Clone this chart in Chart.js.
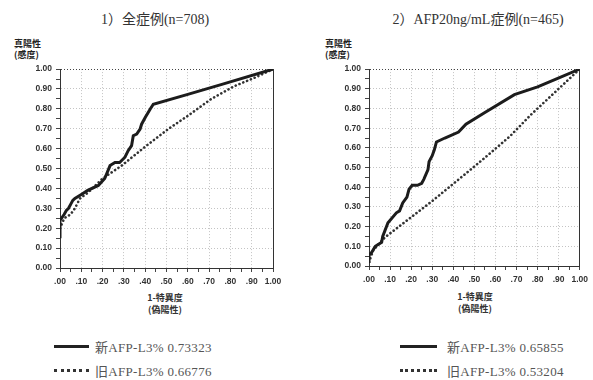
<!DOCTYPE html>
<html>
<head>
<meta charset="utf-8">
<script src="https://cdn.jsdelivr.net/npm/chart.js@4"></script>
<style>
  body { margin: 0; background: #fff; width: 593px; height: 380px; position: relative; overflow: hidden; }
  .t { position: absolute; white-space: nowrap; }
  .title { font: 14px "Liberation Serif", "Noto Sans CJK JP", serif; color: #333; transform: translate(-50%, -50%); }
  .axt { font: bold 9px "Noto Sans CJK JP", sans-serif; color: #222; line-height: 11px; }
  .xt { font: bold 9px "Noto Sans CJK JP", sans-serif; color: #333; line-height: 12px; text-align: center; transform: translateX(-50%); }
  .leg { font: 13px/15px "Liberation Serif", "Noto Sans CJK JP", serif; color: #555; transform: translateY(-50%); letter-spacing: 0.3px; }
  .ln { position: absolute; height: 0; }
  .solid { border-top: 3px solid #222; }
  .dots { border-top: 3px dotted #333; }
  canvas { position: absolute; }
</style>
</head>
<body>
<div class="t title" style="left:155px;top:18px">1）全症例(n=708)</div>
<div class="t title" style="left:478px;top:18px">2）AFP20ng/mL症例(n=465)</div>

<div class="t axt" style="left:14px;top:38px">真陽性<br>(感度)</div>
<div class="t axt" style="left:325px;top:38px">真陽性<br>(感度)</div>

<div class="t xt" style="left:165px;top:292px">1-特異度<br>(偽陽性)</div>
<div class="t xt" style="left:475px;top:291px">1-特異度<br>(偽陽性)</div>

<canvas id="c1" width="290" height="240" style="left:0;top:60px"></canvas>
<canvas id="c2" width="293" height="240" style="left:300px;top:60px"></canvas>

<div class="ln solid" style="left:54px;top:345px;width:35px"></div>
<div class="t leg" style="left:95px;top:347px">新AFP-L3% 0.73323</div>
<div class="ln dots" style="left:54px;top:369px;width:35px"></div>
<div class="t leg" style="left:95px;top:371px">旧AFP-L3% 0.66776</div>

<div class="ln solid" style="left:400px;top:345px;width:37px"></div>
<div class="t leg" style="left:447px;top:347px">新AFP-L3% 0.65855</div>
<div class="ln dots" style="left:400px;top:369px;width:37px"></div>
<div class="t leg" style="left:447px;top:371px">旧AFP-L3% 0.53204</div>

<script>
// tick labels
const yTickLabels = ["0.00", "0.10", "0.20", "0.30", "0.40", "0.50", "0.60", "0.70", "0.80", "0.90", "1.00"];
const xTickLabels = [".00", ".10", ".20", ".30", ".40", ".50", ".60", ".70", ".80", ".90", "1.00"];

// 1) 全症例 — 新AFP-L3%
const allNewX = [0, 0, 0.02, 0.03, 0.04, 0.05, 0.06, 0.07, 0.10, 0.13, 0.18, 0.21, 0.235, 0.258, 0.28, 0.305, 0.32, 0.336, 0.344, 0.36, 0.376, 0.383, 0.40, 0.423, 0.438, 0.60, 0.76, 1];
const allNewY = [0.15, 0.24, 0.27, 0.29, 0.30, 0.32, 0.34, 0.35, 0.37, 0.39, 0.415, 0.45, 0.515, 0.53, 0.53, 0.557, 0.59, 0.615, 0.665, 0.673, 0.698, 0.723, 0.757, 0.798, 0.823, 0.873, 0.923, 1];
// 1) 全症例 — 旧AFP-L3%
const allOldX = [0, 0.02, 0.05, 0.07, 0.094, 0.133, 0.2, 0.29, 0.40, 0.51, 0.60, 0.71, 0.82, 0.915, 1];
const allOldY = [0.2, 0.25, 0.27, 0.30, 0.35, 0.38, 0.45, 0.515, 0.61, 0.70, 0.765, 0.85, 0.915, 0.957, 1];

// 2) AFP20ng/mL症例 — 新AFP-L3%
const afpNewX = [0, 0, 0.013, 0.03, 0.06, 0.065, 0.09, 0.13, 0.145, 0.16, 0.18, 0.19, 0.205, 0.23, 0.25, 0.26, 0.28, 0.285, 0.30, 0.31, 0.32, 0.36, 0.425, 0.46, 0.55, 0.69, 0.80, 0.89, 1];
const afpNewY = [0.015, 0.055, 0.07, 0.10, 0.12, 0.15, 0.22, 0.27, 0.28, 0.32, 0.35, 0.39, 0.41, 0.41, 0.42, 0.44, 0.49, 0.53, 0.56, 0.59, 0.63, 0.65, 0.68, 0.72, 0.78, 0.87, 0.91, 0.95, 1];
// 2) AFP20ng/mL症例 — 旧AFP-L3%
const afpOldX = [0, 0.02, 0.075, 0.30, 0.46, 0.55, 0.67, 0.77, 0.91, 1];
const afpOldY = [0.02, 0.08, 0.145, 0.33, 0.47, 0.55, 0.66, 0.77, 0.91, 1];

function pts(xs, ys) {
  return xs.map((x, i) => ({ x, y: ys[i] }));
}

// 0.05刻みの目盛り、ラベルは0.1ごと
function gridColor(ctx) {
  if (ctx.index % 2) return 'rgba(0,0,0,0)';
  if (ctx.tick && Math.abs(ctx.tick.value - 1) < 1e-6) return '#444';
  return '#c4c4c4';
}

function makeChart(id, newData, oldData, yW, xH, pad) {
  const tickFont = { family: '"Liberation Sans", Arial, sans-serif', size: 8.5, weight: 'bold' };
  return new Chart(document.getElementById(id), {
    type: 'line',
    data: {
      datasets: [
        {
          data: newData,
          borderColor: '#1c1c1c',
          borderWidth: 3,
          pointRadius: 0,
          tension: 0
        },
        {
          data: oldData,
          borderColor: '#333',
          borderWidth: 2.6,
          borderDash: [0.1, 4],
          borderCapStyle: 'round',
          pointRadius: 0,
          tension: 0
        }
      ]
    },
    options: {
      responsive: false,
      animation: false,
      layout: { padding: pad },
      plugins: { legend: { display: false }, tooltip: { enabled: false } },
      scales: {
        x: {
          type: 'linear', min: 0, max: 1,
          ticks: {
            stepSize: 0.05, autoSkip: false, maxRotation: 0, padding: 5,
            color: '#333', font: tickFont,
            callback: (v, i) => (i % 2 ? '' : xTickLabels[i / 2])
          },
          grid: { color: gridColor, tickColor: '#444', tickLength: 4 },
          border: { color: '#333', width: 1, dash: [1, 2] },
          afterFit: s => { s.height = xH; }
        },
        y: {
          type: 'linear', min: 0, max: 1,
          ticks: {
            stepSize: 0.05, autoSkip: false, padding: 4,
            color: '#333', font: tickFont,
            callback: (v, i) => (i % 2 ? '' : yTickLabels[i / 2])
          },
          grid: { color: gridColor, tickColor: '#444', tickLength: 4 },
          border: { color: '#333', width: 1, dash: [1, 2] },
          afterFit: s => { s.width = yW; }
        },
        r: {
          position: 'right', display: true, min: 0, max: 1,
          ticks: { display: false },
          grid: { display: false, drawTicks: false },
          border: { color: '#333', width: 1 },
          afterFit: s => { s.width = 0; }
        }
      }
    }
  });
}

makeChart('c1', pts(allNewX, allNewY), pts(allOldX, allOldY), 60, 32, { top: 8, right: 17, bottom: 0, left: 0 });
makeChart('c2', pts(afpNewX, afpNewY), pts(afpOldX, afpOldY), 69, 34, { top: 7, right: 10, bottom: 0, left: 0 });
</script>
</body>
</html>
